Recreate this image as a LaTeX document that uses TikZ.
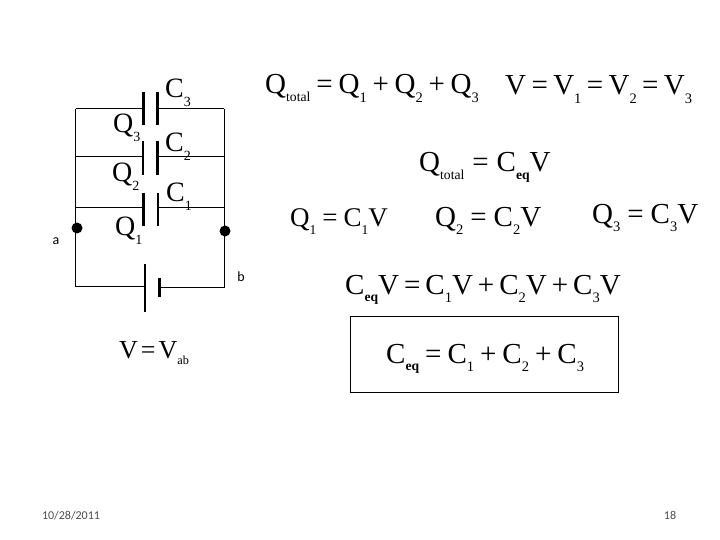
\documentclass[tikz,border=0pt]{standalone}
\usepackage{fontspec}
\setmainfont{Liberation Serif}
\newfontfamily\slidefont{Carlito}
\newcommand{\sbs}[1]{\raisebox{-0.3em}{\fontsize{0.5em}{0.5em}\selectfont #1}}
\newcommand{\sbt}[1]{\raisebox{-0.25em}{\fontsize{0.47em}{0.47em}\selectfont #1}}
\newcommand{\sbd}[1]{\raisebox{-0.25em}{\fontsize{0.47em}{0.47em}\selectfont\bfseries #1}}
\newcommand{\Eq}[1][5.5pt]{\kern#1=\kern#1}
\newcommand{\Pl}[1][5.5pt]{\kern#1+\kern#1}
\tikzset{
  x=1pt,y=-1pt,
  eqn/.style={anchor=base west,inner sep=0pt,font=\fontsize{29}{29}\selectfont},
  eqnsm/.style={anchor=base west,inner sep=0pt,font=\fontsize{27}{27}\selectfont},
  lab/.style={anchor=base west,inner sep=0pt,font=\fontsize{28}{28}\selectfont},
  small/.style={anchor=base,inner sep=0pt,font=\slidefont\fontsize{12}{12}\selectfont,text=black!70},
  term/.style={anchor=base,inner sep=0pt,font=\slidefont\fontsize{14}{14}\selectfont,text=black},
  wire/.style={line width=1pt,black},
  plate/.style={line width=2.6pt,black},
  dot/.style={circle,fill=black,inner sep=0pt,minimum size=11pt}
}
\begin{document}
\begin{tikzpicture}
\useasboundingbox[fill=white] (0,0) rectangle (720,540);
% junction coordinates
\coordinate (tl) at (75.5,109);
\coordinate (ml) at (75.5,157);
\coordinate (ll) at (75.5,208);
\coordinate (bl) at (75.5,286);
\coordinate (tr) at (224,109);
\coordinate (mr) at (224,157);
\coordinate (lr) at (224,208);
\coordinate (br) at (224,287);
% plates
\coordinate (c3a) at (143.5,109);\coordinate (c3b) at (157.5,109);
\coordinate (c2a) at (143,157);\coordinate (c2b) at (157.5,157);
\coordinate (c1a) at (143.5,208);\coordinate (c1b) at (158,208);
\coordinate (ba) at (145,286);\coordinate (bb) at (159.5,287);
\draw[wire] (tl) -- (bl) -- (ba);
\draw[wire] (tr) -- (br) -- (bb);
\draw[wire] (tl) -- (c3a) (c3b) -- (tr);
\draw[wire] (ml) -- (c2a) (c2b) -- (mr);
\draw[wire] (ll) -- (c1a) (c1b) -- (lr);
\draw[plate] (143.5,92) -- (143.5,125.5) (157.5,92) -- (157.5,125.5);
\draw[plate] (143,141) -- (143,175) (157.5,141) -- (157.5,175);
\draw[plate] (143.5,193) -- (143.5,226) (158,193) -- (158,226);
\draw[plate] (145,264) -- (145,312) (159.5,278) -- (159.5,297);
\node[dot] (na) at (77,228) {};
\node[dot] (nb) at (225,231) {};
\node[term] (la) at (56,244) {a};
\node[term] (lb) at (241,281) {b};
% circuit labels
\node[lab] (C3) at (165,98) {C\sbs{3}};
\node[lab] (C2) at (165,152) {C\sbs{2}};
\node[lab] (C1) at (166,202) {C\sbs{1}};
\node[lab] (Q3) at (113,133) {Q\sbs{3}};
\node[lab] (Q2) at (112,182) {Q\sbs{2}};
\node[lab] (Q1) at (115,236) {Q\sbs{1}};
\node[eqnsm,font=\fontsize{26}{26}\selectfont] (Vab) at (119,358) {V\Eq[3pt]V\sbt{ab}};
% equations
\node[eqn] (e1) at (265,94) {Q\sbt{total}\Eq[6pt]Q\sbs{1}\Pl[5.7pt]Q\sbs{2}\Pl[5.7pt]Q\sbs{3}};
\node[eqn] (e2) at (505,95) {V\Eq[5.4pt]V\sbs{1}\Eq[5.4pt]V\sbs{2}\Eq[5.4pt]V\sbs{3}};
\node[eqn] (e3) at (419,172) {Q\sbt{total}\Eq[8pt]C\sbd{eq}V};
\node[eqnsm] (e4) at (290,226) {Q\sbs{1}\Eq[6pt]C\sbs{1}V};
\node[eqn] (e5) at (435,226) {Q\sbs{2}\Eq[7pt]C\sbs{2}V};
\node[eqn] (e6) at (592,223) {Q\sbs{3}\Eq[7pt]C\sbs{3}V};
\node[eqn] (e7) at (345,294) {C\sbd{eq}V\Eq[5pt]C\sbs{1}V\Pl[5pt]C\sbs{2}V\Pl[5pt]C\sbs{3}V};
\node[eqn] (e8) at (386,363) {C\sbd{eq}\Eq[6pt]C\sbs{1}\Pl[6pt]C\sbs{2}\Pl[6pt]C\sbs{3}};
\node[draw=black,line width=1pt,inner sep=0pt,minimum width=268pt,minimum height=76pt] (bx) at (484,354) {};
% footer
\node[small] (date) at (71,519) {10/28/2011};
\node[small] (page) at (670,519) {18};
\end{tikzpicture}
\end{document}
